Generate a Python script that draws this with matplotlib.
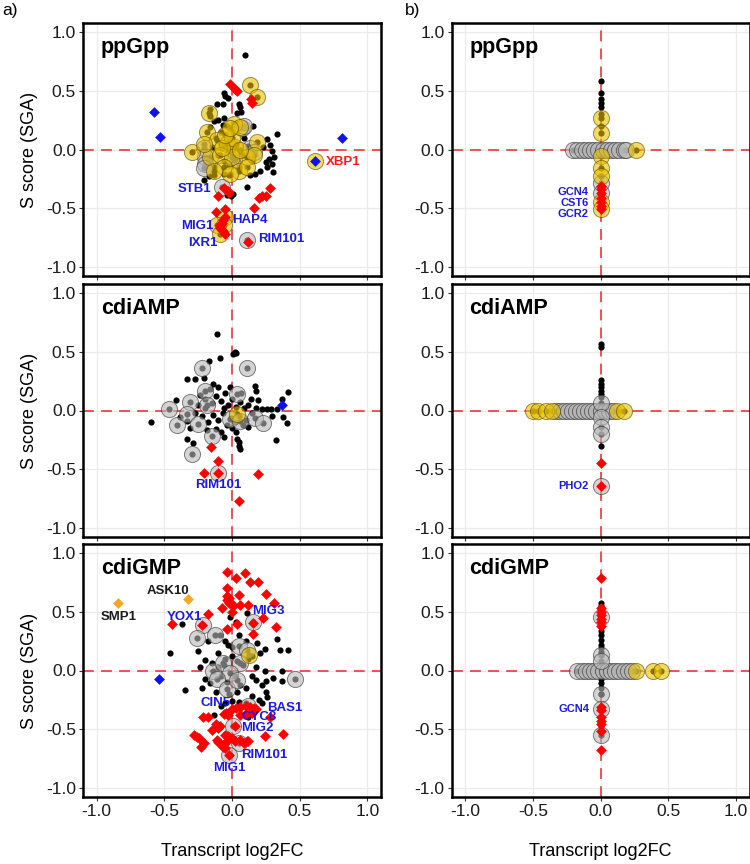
import matplotlib
matplotlib.use("Agg")
import matplotlib.pyplot as plt
import numpy as np

plt.rcParams['font.family'] = ['Liberation Sans', 'DejaVu Sans']

# ---------------- DATA ----------------
# Panel a) ppGpp
a1_black = [(0.096,0.81),(-0.06,0.48),(-0.05,0.46),(-0.03,0.44),(-0.11,0.39),(-0.07,0.39),(-0.16,0.35),(-0.165,0.29),
            (0.05,0.39),(0.06,0.36),(0.04,0.31),(0.07,0.32),(-0.10,0.25),(-0.06,0.27),(-0.135,0.24),(-0.07,0.21),(-0.16,0.19),
            (0.157,0.20),(0.33,0.13),(0.26,0.09),(0.28,0.04),(0.23,0.02),(0.295,-0.01),(0.31,-0.06),(0.27,-0.08),(0.25,-0.105),
            (0.295,-0.12),(0.30,-0.19),(0.26,-0.15),(0.21,-0.18),(0.17,-0.205),(0.135,-0.22),(0.11,-0.32),
            (-0.21,-0.26),(-0.17,-0.23),(-0.135,-0.22),(-0.06,-0.205),(-0.025,-0.22),(-0.01,-0.40),(0.007,-0.38),(-0.037,-0.39),
            (-0.12,0.10),(-0.08,0.05),(-0.05,0.12),(-0.02,0.08),(0.01,0.15),(0.03,0.05),(0.06,-0.02),(0.09,0.10),(-0.10,-0.05),
            (-0.06,-0.10),(-0.02,-0.13),(0.02,-0.08),(0.05,-0.15),(0.08,-0.05),(0.12,0.03),(0.15,-0.10),(-0.15,0.02),(-0.18,-0.10),
            (-0.04,0.20),(0.02,0.22),(-0.13,-0.15),(0.0,-0.02),(-0.03,0.0),(0.10,0.18),(-0.08,0.15)]
a1_gold = [(0.135,0.55),(0.185,0.45),(-0.17,0.31),(0.012,0.22),(-0.185,0.15),(-0.11,0.08),(-0.037,0.05),(0.025,0.023),
           (0.185,0.065),(-0.295,-0.02),(-0.16,-0.06),(-0.086,-0.05),(0.0,-0.06),(0.11,-0.06),(0.16,-0.05),(-0.06,-0.15),
           (0.05,-0.18),(0.11,-0.15),(-0.012,-0.205),(-0.135,-0.18),(0.0,0.095),(-0.074,0.01),(0.06,-0.005),(-0.21,0.05),
           (-0.05,0.12),(0.06,0.19),(-0.012,0.18),(-0.05,-0.575),(-0.11,-0.645),(-0.086,-0.72),(-0.06,-0.645),(0.61,-0.10)]
a1_gray = [(0.074,0.18),(0.09,0.20),(-0.21,0.01),(-0.197,-0.06),(-0.197,-0.12),(-0.21,-0.16),(0.135,0.01),(0.16,-0.02),
           (-0.074,-0.32),(0.11,-0.775),(0.012,-0.09)]
a1_red = [(-0.017,0.558),(0.025,0.52),(0.035,0.50),(0.14,0.43),(0.15,0.40),(-0.06,-0.33),(-0.03,-0.355),(-0.025,-0.37),
          (-0.10,-0.40),(0.28,-0.33),(0.25,-0.40),(0.20,-0.41),(0.22,-0.40),(0.16,-0.50),(-0.115,-0.53),(-0.055,-0.51),
          (-0.05,-0.58),(-0.065,-0.60),(-0.075,-0.625),(-0.09,-0.645),(-0.085,-0.67),(-0.075,-0.69),(-0.07,-0.70),
          (-0.055,-0.72),(0.12,-0.79)]
a1_blue = [(-0.575,0.316),(-0.53,0.11),(0.81,0.094),(0.61,-0.10)]
a1_orange = []
a1_labels = [("STB1",-0.15,-0.34,'right','blue'),("HAP4",0.0,-0.60,'left','blue'),("MIG1",-0.14,-0.655,'right','blue'),
             ("IXR1",-0.11,-0.80,'right','blue'),("RIM101",0.19,-0.76,'left','blue'),("XBP1",0.69,-0.11,'left','red')]

# Panel a) cdiAMP
a2_black = [(-0.108,0.653),(0.02,0.50),(0.01,0.48),(0.03,0.49),(-0.089,0.446),(-0.17,0.42),(-0.334,0.273),(-0.273,0.267),
            (-0.207,0.276),(-0.138,0.224),(-0.10,0.20),(-0.015,0.20),(0.17,0.207),(0.18,0.17),(0.41,0.16),(0.37,0.10),
            (-0.413,0.086),(-0.236,0.13),(0.194,0.09),(0.22,0.01),(0.26,0.01),(0.29,0.015),(0.33,0.01),(0.297,-0.05),
            (0.374,-0.057),(0.408,-0.11),(0.325,-0.25),(-0.60,-0.10),(-0.384,-0.058),(-0.33,-0.09),(-0.31,-0.15),(-0.33,-0.24),
            (-0.29,-0.28),(-0.059,-0.23),(0.04,-0.24),(0.05,-0.27),(0.055,-0.30),(0.06,-0.33),(0.12,-0.14),(-0.187,-0.167),
            (-0.25,0.05),(-0.2,0.1),(-0.15,0.06),(-0.12,0.12),(-0.08,0.08),(-0.05,0.15),(-0.03,0.05),(0.0,0.10),(0.03,0.03),
            (0.06,0.07),(0.09,0.02),(0.12,0.05),(0.15,-0.02),(-0.22,-0.05),(-0.18,-0.10),(-0.14,-0.04),(-0.10,-0.08),
            (-0.07,-0.02),(-0.04,-0.12),(-0.01,-0.06),(0.02,-0.10),(0.05,-0.05),(0.08,-0.12),(0.10,-0.08),(-0.12,-0.16),
            (-0.08,-0.18),(0.00,-0.15),(0.03,-0.18),(-0.06,0.02),(0.07,0.15),(-0.16,0.18),(-0.27,-0.02),(0.18,0.02),
            (0.14,0.10),(-0.20,0.02)]
a2_gold = [(0.04,-0.03)]
a2_gray = [(-0.219,0.36),(0.108,0.36),(-0.2,0.17),(0.035,0.14),(-0.31,0.07),(-0.187,0.05),(-0.463,0.015),(-0.408,-0.12),
           (-0.334,-0.03),(-0.249,-0.115),(-0.15,-0.215),(-0.293,-0.368),(-0.1,-0.53),(-0.015,-0.07),(0.06,-0.09),
           (0.17,-0.06),(0.23,-0.11)]
a2_red = [(-0.155,-0.31),(-0.106,-0.435),(-0.207,-0.53),(-0.1,-0.53),(0.19,-0.54),(0.052,-0.77)]
a2_blue = [(0.367,0.045)]
a2_orange = []
a2_labels = [("RIM101",-0.1,-0.64,'center','blue')]

# Panel a) cdiGMP
a3_black = [(-0.371,0.396),(0.113,0.49),(0.03,0.416),(-0.015,0.456),(-0.458,0.15),(-0.249,0.163),(-0.175,0.25),(-0.052,0.25),
            (-0.03,0.22),(0.0,0.20),(0.33,0.27),(0.354,0.178),(0.415,0.172),(0.244,0.184),(0.207,0.15),(0.182,0.236),
            (-0.2,0.09),(-0.15,0.06),(-0.10,0.03),(0.18,0.03),(0.244,0.0),(0.367,0.0),(0.30,-0.06),(0.25,-0.09),(0.18,-0.08),
            (0.37,-0.09),(-0.347,-0.17),(-0.236,0.03),(-0.20,-0.07),(-0.16,-0.11),(-0.22,-0.15),(0.22,-0.12),(0.25,-0.18),
            (0.20,-0.25),(0.22,-0.28),(0.26,-0.23),(0.15,-0.22),(-0.08,-0.30),(-0.05,-0.28),(0.0,-0.26),(0.05,-0.27),
            (0.10,-0.28),(-0.13,-0.38),(0.12,-0.40),(-0.10,0.15),(-0.05,0.10),(0.0,0.12),(0.04,0.08),(0.08,0.05),(0.12,0.10),
            (-0.08,-0.05),(-0.04,-0.10),(0.02,-0.05),(0.06,-0.12),(0.10,-0.15),(-0.12,-0.18),(-0.02,-0.20),(0.04,-0.18),
            (-0.06,0.05),(0.15,0.12),(0.10,0.25),(0.05,0.30),(-0.09,0.30),(0.15,-0.05)]
a3_gold = [(0.128,0.135)]
a3_gray = [(-0.216,0.387),(-0.125,0.30),(-0.26,0.274),(0.054,0.207),(0.108,0.178),(0.157,0.41),(-0.138,0.0),(-0.064,0.06),
           (0.059,0.06),(-0.015,-0.025),(-0.113,-0.07),(-0.039,-0.155),(0.035,-0.08),(0.465,-0.07),(0.12,-0.30),(0.01,-0.47),
           (0.054,-0.62),(-0.02,-0.72)]
a3_red = [(-0.035,0.845),(0.096,0.83),(0.03,0.787),(0.133,0.752),(0.194,0.752),(-0.035,0.706),(0.054,0.648),(0.251,0.656),
          (-0.035,0.64),(-0.02,0.62),(-0.04,0.60),(-0.025,0.58),(0.0,0.565),(0.01,0.55),(-0.076,0.535),(0.059,0.555),
          (0.12,0.56),(0.312,0.578),(-0.175,0.483),(0.0,0.497),(0.226,0.445),(-0.22,0.387),(-0.445,0.396),(0.153,0.404),
          (0.325,0.372),(-0.035,0.352),(0.153,0.309),(0.04,0.40),
          (-0.212,-0.40),(-0.18,-0.395),(-0.06,-0.37),(-0.045,-0.36),(-0.03,-0.38),(0.0,-0.33),(0.03,-0.32),(0.06,-0.31),
          (0.10,-0.30),(0.13,-0.31),(0.16,-0.32),(0.18,-0.33),(0.06,-0.38),(0.10,-0.37),(0.15,-0.36),(0.28,-0.40),
          (-0.12,-0.46),(-0.10,-0.49),(-0.09,-0.47),(0.022,-0.47),(-0.15,-0.51),(0.38,-0.54),(0.244,-0.56),(-0.28,-0.55),
          (-0.24,-0.58),(-0.21,-0.62),(-0.26,-0.57),(-0.23,-0.65),(-0.113,-0.59),(-0.10,-0.61),(-0.05,-0.55),(-0.03,-0.56),
          (-0.04,-0.60),(0.0,-0.58),(-0.06,-0.63),(0.02,-0.60),(0.06,-0.59),(0.09,-0.62),(0.11,-0.60),(-0.07,-0.65),
          (-0.05,-0.66),(-0.02,-0.72),(0.12,-0.6)]
a3_blue = [(-0.537,-0.074)]
a3_orange = [(-0.84,0.575),(-0.322,0.607)]
a3_labels = [("SMP1",-0.84,0.46,'center','black'),("ASK10",-0.47,0.68,'center','black'),("YOX1",-0.35,0.46,'center','blue'),
             ("MIG3",0.15,0.51,'left','blue'),("CIN5",-0.125,-0.28,'center','blue'),("BAS1",0.256,-0.32,'left','blue'),
             ("CYC8",0.07,-0.40,'left','blue'),("MIG2",0.065,-0.49,'left','blue'),("RIM101",0.065,-0.72,'left','blue'),
             ("MIG1",-0.02,-0.83,'center','blue')]

# Panel b) — points lie on the axes (one coordinate is zero)
b1_black_y = [0.584,0.485,0.433,0.40,0.365,0.30,0.20]
b1_gold_y = [0.27,0.143,-0.057,-0.156,-0.228,-0.45,-0.51]
b1_gray_y = [-0.285,-0.37]
b1_red_y = [-0.31,-0.34,-0.37,-0.41,-0.45,-0.48,-0.51]
b1_gray_x = [-0.20,-0.17,-0.14,-0.11,-0.08,-0.05,-0.02,0.02,0.05,0.08,0.11,0.14,0.17,0.19]
b1_gold_x = [0.265]
b1_labels = [("GCN4",-0.085,-0.36,'right','blue'),("CST6",-0.085,-0.455,'right','blue'),("GCR2",-0.085,-0.55,'right','blue')]

b2_black_y = [0.57,0.545,0.26,0.23,0.20,0.17,0.14,0.115,-0.30]
b2_gold_y = []
b2_gray_y = [0.06,-0.057,-0.14,-0.2,-0.645]
b2_red_y = [-0.445,-0.645]
b2_gray_x = [-0.33,-0.30,-0.27,-0.24,-0.21,-0.18,-0.15,-0.12,-0.09,-0.06,-0.03,0.0,0.03,0.06,0.09]
b2_gold_x = [-0.50,-0.46,-0.40,-0.36,0.12,0.17]
b2_labels = [("PHO2",-0.085,-0.645,'right','blue')]

b3_black_y = [0.58,0.55,0.34,0.30,0.26,0.22,0.19,0.16,-0.03,-0.07,-0.11,-0.15,-0.2,0.45,-0.47]
b3_gold_y = []
b3_gray_y = [0.46,0.135,0.077,-0.2,-0.33,-0.55]
b3_red_y = [0.79,0.53,0.50,0.47,0.44,0.41,0.38,-0.31,-0.34,-0.40,-0.43,-0.46,-0.52,-0.68]
b3_gray_x = [-0.17,-0.14,-0.11,-0.08,-0.05,-0.02,0.02,0.05,0.08,0.11,0.14,0.17,0.20,0.23]
b3_gold_x = [0.26,0.39,0.445]
b3_labels = [("GCN4",-0.08,-0.33,'right','blue')]

titles = ["ppGpp", "cdiAMP", "cdiGMP"]
ticks = [-1.0, -0.5, 0.0, 0.5, 1.0]
tick_labels = ["-1.0", "-0.5", "0.0", "0.5", "1.0"]

# ---------------- STYLE ----------------
C_GOLD = '#E8C000'
C_GRAY = '#B8B8B8'
C_RED = '#FF0000'
C_BLUE = '#1010F0'
C_ORANGE = '#F5A623'
C_TXT_BLUE = '#1A1AE0'
C_DASH = '#E8474C'

fig = plt.figure(figsize=(7.5, 8.64), dpi=100)

W = 298/750
H = 253/864
lefts = [83/750, 451.5/750]
bottoms = [1-276/864, 1-537/864, 1-797/864]


def setup(ax, row, col):
    ax.set_xlim(-1.1, 1.1)
    ax.set_ylim(-1.08, 1.08)
    ax.set_xticks(ticks)
    ax.set_yticks(ticks)
    ax.set_yticklabels(tick_labels, fontsize=12.5)
    if row == 2:
        ax.set_xticklabels(tick_labels, fontsize=12.5)
    else:
        ax.set_xticklabels([])
    ax.grid(True, color='#EBEBEB', lw=0.9, zorder=0)
    ax.set_axisbelow(True)
    for s in ax.spines.values():
        s.set_linewidth(1.8)
        s.set_color('black')
    ax.tick_params(length=3, width=0.8, color='#333333', pad=2, labelcolor='#1a1a1a')
    ax.axhline(0, color=C_DASH, lw=1.3, ls=(0, (6, 4)), zorder=1)
    ax.axvline(0, color=C_DASH, lw=1.3, ls=(0, (6, 4)), zorder=1)
    ax.text(0.06, 0.945, titles[row], transform=ax.transAxes, fontsize=15.5,
            fontweight='bold', va='top', ha='left', zorder=10)
    if col == 0:
        ax.set_ylabel("S score (SGA)", fontsize=13, labelpad=6)


def xy(pts):
    if len(pts) == 0:
        return np.array([]), np.array([])
    a = np.array(pts, dtype=float)
    return a[:, 0], a[:, 1]


def draw(ax, black, gold, gray, red, blue, orange, labels, fs=9.5):
    bx, by = xy(black)
    gx, gy = xy(gold)
    cx, cy = xy(gray)
    ax.scatter(bx, by, s=20, c='black', lw=0, zorder=2)
    # inner dots of the big circles
    ax.scatter(np.concatenate([gx, cx]), np.concatenate([gy, cy]), s=20, c='black', lw=0, zorder=2)
    ax.scatter(cx, cy, s=135, c=C_GRAY, alpha=0.6, edgecolors='#333333', linewidths=0.7, zorder=3)
    ax.scatter(gx, gy, s=135, c=C_GOLD, alpha=0.6, edgecolors='#5a4a00', linewidths=0.7, zorder=3)
    rx, ry = xy(red)
    ax.scatter(rx, ry, s=30, c=C_RED, marker='D', lw=0, zorder=4)
    ux, uy = xy(blue)
    ax.scatter(ux, uy, s=30, c=C_BLUE, marker='D', lw=0, zorder=4)
    ox, oy = xy(orange)
    ax.scatter(ox, oy, s=30, c=C_ORANGE, marker='D', lw=0, zorder=4)
    cmap = {'blue': C_TXT_BLUE, 'red': '#FF1A1A', 'black': '#1a1a1a'}
    for t, x, y, ha, col in labels:
        ax.text(x, y, t, ha=ha, va='center', fontsize=fs, fontweight='bold', color=cmap[col], zorder=6)


left_data = [
    (a1_black, a1_gold, a1_gray, a1_red, a1_blue, a1_orange, a1_labels),
    (a2_black, a2_gold, a2_gray, a2_red, a2_blue, a2_orange, a2_labels),
    (a3_black, a3_gold, a3_gray, a3_red, a3_blue, a3_orange, a3_labels),
]
right_data = [
    (b1_black_y, b1_gold_y, b1_gray_y, b1_red_y, b1_gray_x, b1_gold_x, b1_labels),
    (b2_black_y, b2_gold_y, b2_gray_y, b2_red_y, b2_gray_x, b2_gold_x, b2_labels),
    (b3_black_y, b3_gold_y, b3_gray_y, b3_red_y, b3_gray_x, b3_gold_x, b3_labels),
]

for row in range(3):
    ax = fig.add_axes([lefts[0], bottoms[row], W, H])
    setup(ax, row, 0)
    draw(ax, *left_data[row])

    ax = fig.add_axes([lefts[1], bottoms[row], W, H])
    setup(ax, row, 1)
    bly, gly, gry, rdy, grx, gdx, labs = right_data[row]
    black = [(0.0, v) for v in bly]
    gold = [(0.0, v) for v in gly] + [(v, 0.0) for v in gdx]
    gray = [(v, 0.0) for v in grx] + [(0.0, v) for v in gry]
    red = [(0.0, v) for v in rdy]
    draw(ax, black, gold, gray, red, [], [], labs, fs=8)

fig.text(2/750, 1-10/864, "a)", fontsize=12.5, va='center', ha='left')
fig.text(405/750, 1-10/864, "b)", fontsize=12.5, va='center', ha='left')
fig.text(232/750, 1-852/864, "Transcript log2FC", fontsize=13, ha='center', va='center')
fig.text(600/750, 1-852/864, "Transcript log2FC", fontsize=13, ha='center', va='center')

fig.savefig("out.png", dpi=100)
